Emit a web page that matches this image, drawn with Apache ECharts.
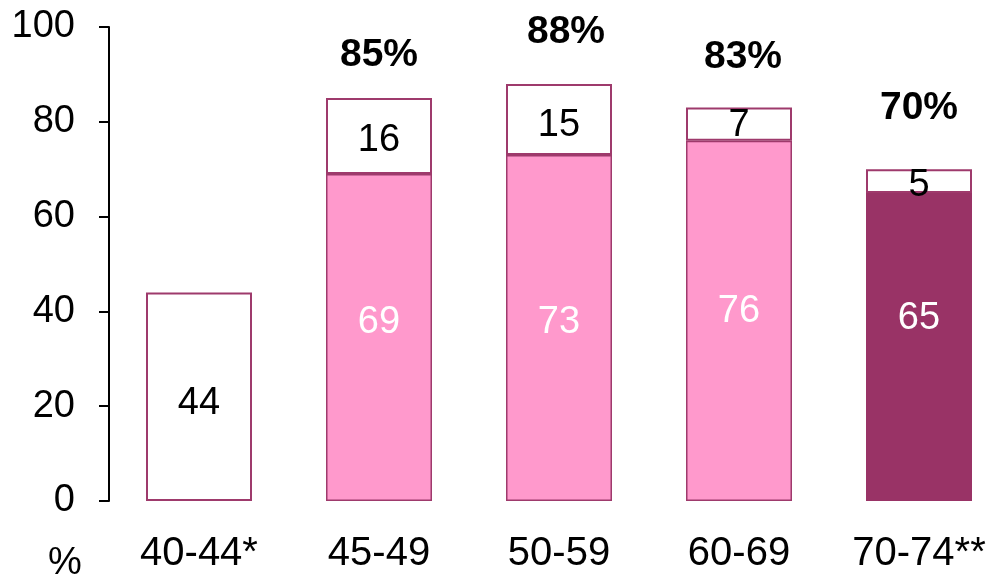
<!DOCTYPE html>
<html><head><meta charset="utf-8">
<script src="https://cdn.jsdelivr.net/npm/echarts@6/dist/echarts.min.js"></script>
<style>html,body{margin:0;padding:0;background:#fff}#c{width:988px;height:576px}</style>
</head><body><div id="c"></div>
<script>
var categories = ['40-44*', '45-49', '50-59', '60-69', '70-74**'];
var baseValues = [null, 69, 73, 76, 65];
var topValues = [44, 16, 15, 7, 5];
var totalLabels = [null, 85, 88, 83, 70];
var yTicks = [0, 20, 40, 60, 80, 100];

var baseColors = ['#FF99CC', '#FF99CC', '#FF99CC', '#FF99CC', '#993366'];
var baseLabelShift = [0, -15, -5, -9, -28];
var topLabelShift = [7, 4, 6, 1, 4];
var totalDistance = [0, 23, 32, 31, 41];
var totalShiftX = [0, 0, 7, 4, 0];

var FONT = 'Liberation Sans, Arial, sans-serif';
var BORDER = '#9E3A6C';

var chart = echarts.init(document.getElementById('c'), null, {renderer: 'canvas'});
chart.setOption({
  animation: false,
  backgroundColor: '#fff',
  grid: {left: 109, width: 900, top: 27, bottom: 75, containLabel: false, outerBoundsMode: 'none'},
  xAxis: {
    type: 'category', data: categories,
    axisLine: {show: false}, axisTick: {show: false},
    axisLabel: {color: '#000', fontSize: 40, fontFamily: FONT, margin: 33}
  },
  yAxis: {
    type: 'value', min: yTicks[0], max: yTicks[yTicks.length - 1], interval: 20,
    splitLine: {show: false},
    axisLine: {show: true, lineStyle: {color: '#000', width: 2}},
    axisTick: {show: true, length: 10, lineStyle: {color: '#000', width: 2}},
    axisLabel: {color: '#000', fontSize: 38, fontFamily: FONT, margin: 34}
  },
  graphic: [{type: 'text', left: 48, top: 545, style: {text: '%', fontSize: 38, fontFamily: FONT, fill: '#000'}}],
  series: [
    {
      type: 'bar', stack: 's', barWidth: 106,
      data: baseValues.map(function (v, i) {
        return {value: v == null ? '-' : v,
          itemStyle: {color: baseColors[i], borderColor: BORDER, borderWidth: i === 4 ? 0 : 1.5},
          label: {offset: [0, baseLabelShift[i]]}};
      }),
      label: {show: true, position: 'inside', color: '#fff', fontSize: 38, fontFamily: FONT}
    },
    {
      type: 'bar', stack: 's', barWidth: 106,
      data: topValues.map(function (v, i) { return {value: v, label: {offset: [0, topLabelShift[i]]}}; }),
      itemStyle: {color: '#fff', borderColor: BORDER, borderWidth: 2},
      label: {show: true, position: 'inside', color: '#000', fontSize: 38, fontFamily: FONT}
    },
    {
      type: 'scatter', symbolSize: 0, itemStyle: {color: '#000', opacity: 1},
      data: totalLabels.map(function (v, i) {
        return {value: v == null ? '-' : v,
          label: {distance: totalDistance[i], offset: [totalShiftX[i], 0]}};
      }),
      label: {show: true, position: 'top', color: '#000', opacity: 1, fontSize: 39, fontWeight: 'bold', fontFamily: FONT,
        formatter: function (p) { return p.value + '%'; }}
    }
  ]
});
</script></body></html>
